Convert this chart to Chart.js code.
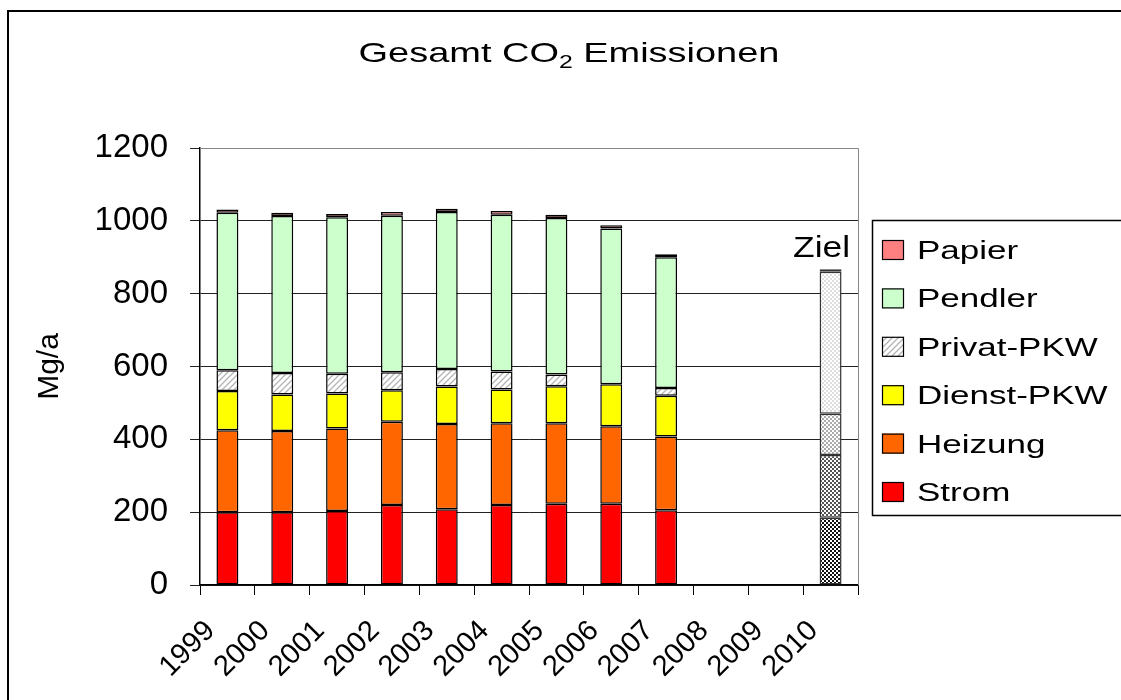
<!DOCTYPE html>
<html><head><meta charset="utf-8">
<script src="https://cdn.jsdelivr.net/npm/chart.js@4.4.1/dist/chart.umd.min.js"></script>
<style>html,body{margin:0;padding:0;background:#fff;}#wrap{width:1121px;height:700px;position:relative;}</style>
</head><body><div id="wrap"><canvas id="c" width="1121" height="700"></canvas></div>
<script>
// ---- data ----
const years = ['1999','2000','2001','2002','2003','2004','2005','2006','2007','2008','2009','2010'];
const strom     = [200, 200, 203, 220, 208, 220, 223, 223, 205, null, null, 185];
const heizung   = [225, 223, 227, 228, 234, 224, 221, 213, 203, null, null, 172];
const dienstPkw = [108, 100,  96,  87, 103,  93, 102, 115, 112, null, null, 113];
const privatPkw = [ 57,  59,  54,  49,  48,  49,  32,   0,  21, null, null,   0];
const pendler   = [432, 431, 430, 430, 431, 431, 430, 428, 359, null, null, 390];
const papier    = [  9,   9,   9,  10,   9,  10,   9,   9,   8, null, null,   7];
const targetIndex = 11;
const targetLabel = 'Ziel';
const yTicks = [0, 200, 400, 600, 800, 1000, 1200];
const titleParts = ['Gesamt CO', '2', ' Emissionen'];

const FONT = '"Liberation Sans", Arial, sans-serif';
const SX = 1.32; // horizontal stretch of the reference lettering
const canvas = document.getElementById('c');
const ctx = canvas.getContext('2d');

function makePattern(size, draw) {
  const c = document.createElement('canvas');
  c.width = size; c.height = size;
  const g = c.getContext('2d');
  draw(g, size);
  return ctx.createPattern(c, 'repeat');
}
function checker(dark, light) {
  return makePattern(4, (g) => {
    g.fillStyle = light; g.fillRect(0, 0, 4, 4);
    g.fillStyle = dark; g.fillRect(0, 0, 2, 2); g.fillRect(2, 2, 2, 2);
  });
}
const hatch = makePattern(6, (g, s) => {
  g.fillStyle = '#fff'; g.fillRect(0, 0, s, s);
  g.strokeStyle = '#b4b4b4'; g.lineWidth = 1.3;
  g.beginPath();
  g.moveTo(-1, s + 1); g.lineTo(s + 1, -1);
  g.moveTo(-1, 1); g.lineTo(1, -1);
  g.moveTo(s - 1, s + 1); g.lineTo(s + 1, s - 1);
  g.stroke();
});

function colors(base, target) {
  return years.map((_, i) => i === targetIndex ? target : base);
}

const datasets = [
  { label: 'Strom', data: strom, legendFill: '#ff0000', backgroundColor: colors('#ff0000', checker('#111', '#fff')) },
  { label: 'Heizung', data: heizung, legendFill: '#ff6600', backgroundColor: colors('#ff6600', checker('#555', '#fff')) },
  { label: 'Dienst-PKW', data: dienstPkw, legendFill: '#ffff00', backgroundColor: colors('#ffff00', checker('#aaa', '#fff')) },
  { label: 'Privat-PKW', data: privatPkw, legendFill: hatch, backgroundColor: colors(hatch, checker('#ccc', '#fff')) },
  { label: 'Pendler', data: pendler, legendFill: '#ccffcc', backgroundColor: colors('#ccffcc', checker('#dedede', '#fff')) },
  { label: 'Papier', data: papier, legendFill: '#ff8080', backgroundColor: colors('#ff8080', '#ff8080') }
].map(d => Object.assign(d, {
  borderColor: years.map((_, i) => i === targetIndex ? '#333' : '#000'),
  borderWidth: 1.5,
  borderSkipped: false,
  barPercentage: 0.4,
  categoryPercentage: 1.0
}));

const framePlugin = {
  id: 'frame',
  beforeDraw(chart) {
    const c = chart.ctx;
    c.save();
    c.fillStyle = '#fff'; c.fillRect(0, 0, chart.width, chart.height);
    c.strokeStyle = '#000'; c.lineWidth = 2;
    c.strokeRect(8, 11, chart.width + 20, chart.height + 20);
    // title with real subscript
    const big = '27.5px ' + FONT, small = '18px ' + FONT;
    const sx = 1.38;
    c.font = big; const w0 = c.measureText(titleParts[0]).width;
    const w2 = c.measureText(titleParts[2]).width;
    c.font = small; const w1 = c.measureText(titleParts[1]).width;
    const total = (w0 + w1 + w2) * sx;
    c.translate(569 - total / 2, 62);
    c.scale(sx, 1);
    c.fillStyle = '#000';
    c.textBaseline = 'alphabetic';
    c.textAlign = 'left';
    c.font = big; c.fillText(titleParts[0], 0, 0);
    c.font = small; c.fillText(titleParts[1], w0, 6);
    c.font = big; c.fillText(titleParts[2], w0 + w1, 0);
    c.restore();
  },
  beforeDatasetsDraw(chart) {
    const a = chart.chartArea, c = chart.ctx;
    c.save();
    c.strokeStyle = '#888'; c.lineWidth = 1;
    c.beginPath();
    c.moveTo(a.left, a.top + 0.5); c.lineTo(a.right + 0.5, a.top + 0.5); c.lineTo(a.right + 0.5, a.bottom);
    c.stroke();
    c.restore();
  },
  afterDatasetsDraw(chart) {
    const c = chart.ctx;
    const meta = chart.getDatasetMeta(chart.data.datasets.length - 1);
    const el = meta.data[targetIndex];
    c.save();
    c.fillStyle = '#000';
    c.font = '29px ' + FONT;
    c.textAlign = 'center';
    c.textBaseline = 'alphabetic';
    c.translate(el.x - 9, el.y - 12);
    c.scale(1.22, 1);
    c.fillText(targetLabel, 0, 0);
    c.restore();
  },
  afterDraw(chart) {
    const c = chart.ctx;
    const ds = chart.data.datasets;
    c.save();
    c.strokeStyle = '#000'; c.lineWidth = 1.5;
    c.strokeRect(872.5, 220.5, 400, 295);
    c.font = '26.5px ' + FONT;
    c.textBaseline = 'alphabetic';
    c.textAlign = 'left';
    for (let k = 0; k < ds.length; k++) {
      const d = ds[ds.length - 1 - k];
      const y = 250 + k * 48.4;
      c.fillStyle = d.legendFill;
      c.fillRect(882, y - 10, 22, 20);
      c.lineWidth = 1.2;
      c.strokeRect(882.5, y - 9.5, 21, 19);
      c.fillStyle = '#000';
      c.save();
      c.translate(917, y + 9);
      c.scale(SX, 1);
      c.fillText(d.label, 0, 0);
      c.restore();
    }
    c.restore();
  }
};

new Chart(canvas, {
  type: 'bar',
  data: { labels: years, datasets },
  plugins: [framePlugin],
  options: {
    responsive: false,
    devicePixelRatio: 1,
    animation: false,
    layout: { padding: { left: 0, right: 263, top: 148, bottom: 0 } },
    plugins: {
      legend: { display: false },
      tooltip: { enabled: false },
      title: { display: false }
    },
    scales: {
      x: {
        stacked: true,
        offset: true,
        grid: { display: true, drawOnChartArea: false, drawTicks: true, tickLength: 10, color: '#000', offset: true },
        border: { display: true, color: '#000', width: 1.5 },
        ticks: { color: '#000', font: { family: FONT, size: 29 }, minRotation: 45, maxRotation: 45, padding: 19, labelOffset: -17, autoSkip: false },
        afterFit(scale) { scale.height = 115; }
      },
      y: {
        stacked: true,
        min: 0, max: 1200,
        afterBuildTicks(scale) { scale.ticks = yTicks.map(v => ({ value: v })); },
        grid: { color: '#222', lineWidth: 1, drawTicks: true, tickLength: 10 },
        border: { display: true, color: '#000', width: 1.5 },
        ticks: { color: '#000', font: { family: FONT, size: 33 }, padding: 22, callback: (v) => String(v) },
        title: { display: true, text: 'Mg/a', color: '#000', font: { family: FONT, size: 30 }, padding: { top: 32, bottom: 0 } },
        afterFit(scale) { scale.width = 200; }
      }
    }
  }
});
</script></body></html>
